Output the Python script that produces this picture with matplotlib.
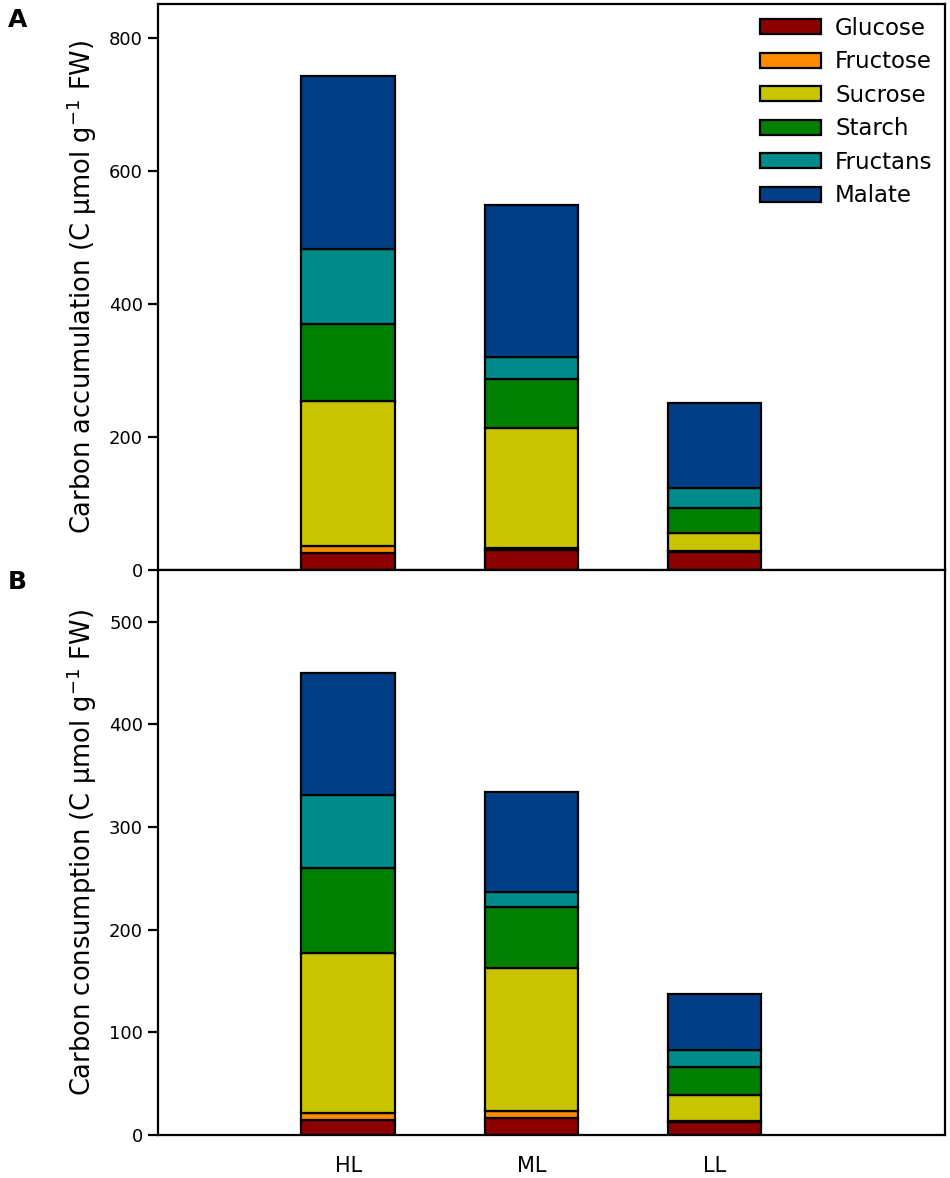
import matplotlib
matplotlib.use("Agg")
import matplotlib.pyplot as plt
import numpy as np

plt.rcParams['font.family'] = ['DejaVu Sans']

groups = ["HL", "ML", "LL"]
components = ["Glucose", "Fructose", "Sucrose", "Starch", "Fructans", "Malate"]
colors = ["#8b0000", "#ff8c00", "#c8c400", "#008000", "#008b8b", "#003f87"]

# panel A: carbon accumulation
accum = {
    "Glucose": [26, 31, 28],
    "Fructose": [10, 2, 1],
    "Sucrose": [219, 180, 27],
    "Starch": [115, 74, 38],
    "Fructans": [113, 33, 30],
    "Malate": [260, 229, 128],
}

# panel B: carbon consumption
consum = {
    "Glucose": [15, 17, 13],
    "Fructose": [6, 6, 1],
    "Sucrose": [156, 140, 25],
    "Starch": [83, 59, 27],
    "Fructans": [71, 15, 17],
    "Malate": [119, 97, 54],
}


def stack(ax, data):
    x = np.arange(len(groups))
    bottom = np.zeros(len(groups))
    for name, col in zip(components, colors):
        vals = np.array(data[name], dtype=float)
        ax.bar(x, vals, 0.51, bottom=bottom, color=col, edgecolor="black",
               linewidth=1.6, label=name)
        bottom += vals
    ax.set_xlim(-1.04, 3.26)
    for s in ax.spines.values():
        s.set_linewidth(1.6)
    ax.tick_params(axis="y", direction="out", length=7, width=1.6, labelsize=13)
    ax.tick_params(axis="x", length=0, labelsize=15)


fig = plt.figure(figsize=(9.5, 11.78), dpi=100)
ax1 = fig.add_axes([0.166, 0.516, 0.829, 0.4806])
ax2 = fig.add_axes([0.166, 0.0365, 0.829, 0.4795])

stack(ax1, accum)
ax1.set_ylim(0, 851)
ax1.set_yticks([0, 200, 400, 600, 800])
ax1.set_xticks([])
ax1.set_ylabel("Carbon accumulation (C µmol g$^{-1}$ FW)", fontsize=18.5, labelpad=7)
ax1.legend(loc="upper right", frameon=False, fontsize=16.5, handlelength=2.7,
           handleheight=0.62, labelspacing=0.46, handletextpad=0.6,
           borderaxespad=0.1, borderpad=0.45)

stack(ax2, consum)
ax2.set_ylim(0, 550)
ax2.set_yticks([0, 100, 200, 300, 400, 500])
ax2.set_xticks(np.arange(len(groups)))
ax2.set_xticklabels(groups)
ax2.tick_params(axis="x", pad=15)
ax2.set_ylabel("Carbon consumption (C µmol g$^{-1}$ FW)", fontsize=18.5, labelpad=7)

fig.text(0.008, 0.983, "A", fontsize=18, fontweight="bold", va="center")
fig.text(0.008, 0.506, "B", fontsize=18, fontweight="bold", va="center")

fig.savefig("out.png", dpi=100)
